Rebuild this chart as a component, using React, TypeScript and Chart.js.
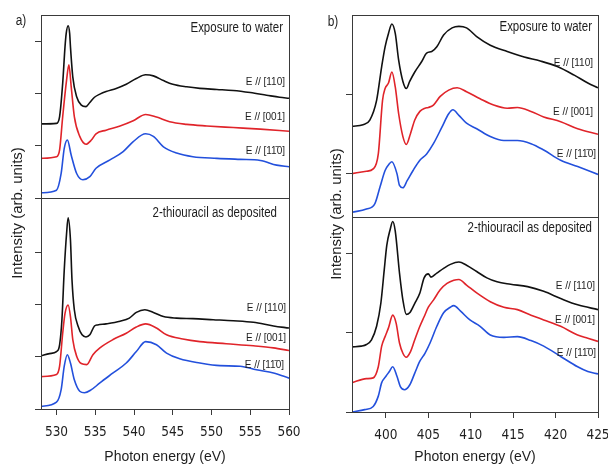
import React, { useEffect, useRef } from "react";
import { Chart, registerables } from "chart.js";

Chart.register(...registerables);

type Pt = [number, number];

// ---------- axes ----------
const aXTicks = [530, 535, 540, 545, 550, 555, 560];
const bXTicks = [400, 405, 410, 415, 420, 425];
const aTopYTicks = [0, 1, 2, 3];
const aBotYTicks = [0, 1, 2, 3];
const bTopYTicks = [0, 1];
const bBotYTicks = [0, 1, 2];

// ---------- texts ----------
const label110 = "E // [110]";
const label001 = "E // [001]";
const label1m10 = "E // [11\u03040]";
const xTitle = "Photon energy (eV)";
const yTitle = "Intensity (arb. units)";
const condWater = "Exposure to water";
const condDep = "2-thiouracil as deposited";

// ---------- panel a (O K-edge), exposure to water ----------
const aWater110: Pt[] = [[528.0,1.42],[530.0,1.43],[530.4,1.56],[530.8,2.20],[531.1,2.90],[531.25,3.15],[531.5,3.30],[531.7,3.15],[531.8,2.90],[532.1,2.32],[532.6,1.94],[533.2,1.78],[533.8,1.75],[534.3,1.83],[534.9,1.93],[535.6,1.99],[536.4,2.04],[537.7,2.10],[539.0,2.18],[540.3,2.29],[541.5,2.36],[542.5,2.34],[543.8,2.25],[545.0,2.18],[546.8,2.13],[548.5,2.10],[550.7,2.08],[552.8,2.06],[555.0,2.02],[557.1,1.97],[558.8,1.93],[560.0,1.91]];
const aWater001: Pt[] = [[528.0,0.76],[530.0,0.79],[530.4,0.92],[530.8,1.56],[531.3,2.26],[531.6,2.55],[531.9,2.13],[532.3,1.56],[533.0,1.18],[533.8,1.03],[534.5,1.11],[535.1,1.23],[536.4,1.30],[538.2,1.38],[539.9,1.48],[541.5,1.60],[542.9,1.55],[544.6,1.46],[546.8,1.41],[549.4,1.38],[552.8,1.35],[556.3,1.32],[560.0,1.28]];
const aWater1m10: Pt[] = [[528.0,0.10],[530.0,0.15],[530.6,0.47],[531.0,0.95],[531.4,1.11],[531.9,0.82],[532.6,0.47],[533.4,0.35],[534.3,0.41],[535.1,0.57],[536.9,0.73],[538.6,0.89],[539.9,1.08],[541.5,1.23],[542.5,1.18],[543.8,0.98],[545.5,0.86],[547.6,0.79],[550.7,0.76],[553.7,0.74],[556.3,0.72],[558.4,0.63],[560.0,0.60]];

// ---------- panel a, as deposited ----------
const aDep110: Pt[] = [[528.0,1.02],[529.1,1.06],[530.0,1.10],[530.4,1.23],[530.7,1.71],[531.0,2.66],[531.3,3.36],[531.5,3.66],[531.8,3.24],[532.0,2.47],[532.3,1.90],[532.8,1.58],[533.3,1.42],[533.8,1.38],[534.3,1.42],[534.9,1.59],[535.3,1.61],[536.4,1.63],[538.2,1.68],[539.4,1.74],[540.3,1.85],[541.4,1.90],[542.5,1.85],[543.8,1.77],[545.5,1.74],[547.6,1.73],[550.2,1.71],[552.8,1.69],[555.4,1.66],[558.0,1.59],[560.0,1.55]];
const aDep001: Pt[] = [[528.0,0.62],[530.0,0.66],[530.4,0.82],[530.8,1.45],[531.1,1.83],[531.5,1.99],[531.8,1.77],[532.1,1.33],[532.6,1.01],[533.2,0.87],[533.9,0.85],[534.7,1.04],[535.6,1.17],[537.3,1.33],[539.0,1.45],[540.3,1.57],[541.5,1.63],[542.9,1.55],[544.2,1.42],[546.3,1.34],[548.5,1.29],[551.9,1.25],[555.4,1.21],[558.0,1.17],[560.0,1.12]];
const aDep1m10: Pt[] = [[528.0,0.05],[530.0,0.13],[530.6,0.37],[531.0,0.82],[531.4,1.04],[531.8,0.88],[532.3,0.56],[533.0,0.34],[533.6,0.31],[534.5,0.37],[535.6,0.50],[537.3,0.69],[539.0,0.88],[540.3,1.10],[541.5,1.29],[542.9,1.23],[544.2,1.07],[545.9,0.96],[548.5,0.88],[551.1,0.83],[553.7,0.82],[555.8,0.75],[558.0,0.69],[560.0,0.59]];

// ---------- panel b (N K-edge), exposure to water ----------
const bWater110: Pt[] = [[396.0,0.60],[397.3,0.62],[398.1,0.68],[398.9,0.93],[399.5,1.36],[399.9,1.61],[400.3,1.78],[400.7,1.90],[401.1,1.78],[401.5,1.44],[402.0,1.17],[402.4,1.08],[402.8,1.17],[403.4,1.29],[404.2,1.42],[404.8,1.53],[405.4,1.55],[406.0,1.61],[406.8,1.76],[407.8,1.85],[408.6,1.87],[409.5,1.85],[410.7,1.74],[412.3,1.63],[414.3,1.55],[416.3,1.48],[418.2,1.43],[420.2,1.36],[422.2,1.25],[423.8,1.15],[425.0,1.09]];
const bWater001: Pt[] = [[396.0,0.00],[397.7,0.03],[398.5,0.06],[399.1,0.25],[399.6,0.93],[399.9,1.08],[400.3,1.15],[400.7,1.29],[401.1,1.10],[401.5,0.76],[402.0,0.47],[402.4,0.37],[402.9,0.51],[403.4,0.68],[404.0,0.79],[404.6,0.83],[405.0,0.84],[405.6,0.87],[406.4,0.98],[407.4,1.06],[408.4,1.09],[409.5,1.04],[411.1,0.95],[412.7,0.87],[414.3,0.83],[415.5,0.84],[417.1,0.79],[418.6,0.72],[420.6,0.66],[422.6,0.57],[425.0,0.50]];
const bWater1m10: Pt[] = [[396.0,-0.49],[397.7,-0.45],[398.7,-0.38],[399.3,-0.17],[399.9,0.04],[400.3,0.11],[400.7,0.15],[401.3,0.00],[401.6,-0.15],[402.0,-0.18],[402.5,-0.09],[403.2,0.04],[404.0,0.17],[404.8,0.25],[405.6,0.38],[406.6,0.59],[407.4,0.76],[407.9,0.81],[408.6,0.74],[409.5,0.64],[410.7,0.57],[412.3,0.47],[413.9,0.42],[415.5,0.42],[417.1,0.38],[418.6,0.30],[420.6,0.17],[422.6,0.09],[425.0,-0.01]];

// ---------- panel b, as deposited ----------
const bDep110: Pt[] = [[396.0,0.82],[397.1,0.83],[397.7,0.85],[398.3,0.91],[398.9,1.08],[399.4,1.37],[399.8,1.79],[400.1,2.10],[400.5,2.30],[400.8,2.40],[401.1,2.28],[401.6,1.75],[402.0,1.41],[402.4,1.23],[402.8,1.25],[403.4,1.37],[404.0,1.50],[404.5,1.69],[405.0,1.74],[405.3,1.70],[406.0,1.75],[406.8,1.81],[407.6,1.86],[408.6,1.89],[409.5,1.85],[410.7,1.77],[411.9,1.69],[413.1,1.64],[414.7,1.61],[416.7,1.58],[418.6,1.52],[420.6,1.43],[422.6,1.35],[425.0,1.29]];
const bDep001: Pt[] = [[396.0,0.37],[397.7,0.42],[398.5,0.43],[399.1,0.57],[399.5,0.83],[399.9,0.95],[400.3,1.06],[400.8,1.22],[401.2,1.12],[401.6,0.87],[402.0,0.74],[402.4,0.69],[402.9,0.76],[403.4,0.91],[404.0,1.08],[404.5,1.20],[405.0,1.32],[405.6,1.41],[406.4,1.54],[407.2,1.62],[408.0,1.66],[408.6,1.67],[409.5,1.60],[410.7,1.50],[412.3,1.39],[413.9,1.32],[415.5,1.29],[417.1,1.22],[418.6,1.16],[420.6,1.08],[422.6,0.97],[423.8,0.93],[425.0,0.89]];
const bDep1m10: Pt[] = [[396.0,0.00],[397.5,0.03],[398.5,0.07],[399.1,0.20],[399.5,0.37],[400.0,0.45],[400.4,0.51],[400.8,0.57],[401.3,0.45],[401.7,0.32],[402.2,0.28],[402.8,0.34],[403.4,0.49],[404.0,0.64],[404.6,0.74],[405.2,0.87],[406.0,1.08],[406.8,1.25],[407.6,1.32],[408.0,1.34],[408.8,1.27],[409.9,1.16],[411.1,1.08],[412.3,0.97],[413.9,0.94],[415.5,0.95],[417.1,0.90],[418.6,0.83],[420.6,0.70],[422.6,0.57],[423.8,0.51],[425.0,0.48]];

// ---------- styles ----------
const BLACK = "#111111";
const RED = "#e0242a";
const BLUE = "#2350dc";
const INK = "#1e1e1e";
const AXIS = "#3a3a3a";
const SANS = "'Liberation Sans', Arial, Helvetica, sans-serif";
const NARROW = "'Liberation Sans Narrow', 'Arial Narrow', 'DejaVu Sans Condensed', 'Liberation Sans', Arial, sans-serif";

interface TextSpec { text: string; x: number; y: number; align: CanvasTextAlign; font: string; sx?: number; rot?: number; }
interface SubSpec {
  box: { left: number; top: number; width: number; height: number };
  padding: { left: number; right: number; top: number; bottom: number };
  yWidth: number;
  xRange: [number, number];
  xTicks: number[] | null;
  xHeight: number;
  yRange: [number, number];
  yTicks: number[];
  series: { data: Pt[]; color: string }[];
  texts: TextSpec[];
}

const condFont = `14px ${SANS}`;
const labFont = `10px ${SANS}`;
const yTitleFont = `15px ${SANS}`;

const annotPlugin = {
  id: "annot",
  afterDraw(chart: any, _args: any, opts: any) {
    const ctx: CanvasRenderingContext2D = chart.ctx;
    const a = chart.chartArea;
    ctx.save();
    ctx.strokeStyle = AXIS;
    ctx.lineWidth = 1;
    ctx.strokeRect(Math.round(a.left) + 0.5, Math.round(a.top) + 0.5, Math.round(a.right - a.left), Math.round(a.bottom - a.top));
    for (const t of opts.texts as TextSpec[]) {
      ctx.save();
      ctx.translate(t.x - opts.ox, t.y - opts.oy);
      if (t.rot) ctx.rotate(t.rot);
      ctx.scale(t.sx ?? 1, 1);
      ctx.font = t.font;
      ctx.fillStyle = INK;
      ctx.textAlign = t.align;
      ctx.textBaseline = "middle";
      ctx.fillText(t.text, 0, 0);
      ctx.restore();
    }
    ctx.restore();
  },
};

function makeLabels(rx: number[], ys: number[]): TextSpec[] {
  const names = [label110, label001, label1m10];
  return names.map((n, i) => ({ text: n, x: rx[i], y: ys[i], align: "right" as CanvasTextAlign, font: labFont }));
}

const subs: SubSpec[] = [
  {
    box: { left: 0, top: 0, width: 300, height: 205 },
    padding: { left: 0, right: 11, top: 15, bottom: 7 },
    yWidth: 41, xRange: [528, 560], xTicks: null, xHeight: 0,
    yRange: [0, 3.506], yTicks: aTopYTicks,
    series: [{ data: aWater110, color: BLACK }, { data: aWater001, color: RED }, { data: aWater1m10, color: BLUE }],
    texts: [
      { text: "a)", x: 21, y: 21, align: "center", font: condFont, sx: 0.85 },
      { text: condWater, x: 283, y: 28, align: "right", font: condFont, sx: 0.82 },
      ...makeLabels([285, 285, 285], [82.7, 117, 151.7]),
    ],
  },
  {
    box: { left: 0, top: 0, width: 300, height: 466 },
    padding: { left: 0, right: 11, top: 198, bottom: 0 },
    yWidth: 41, xRange: [528, 560], xTicks: aXTicks, xHeight: 57,
    yRange: [0, 4.04], yTicks: aBotYTicks,
    series: [{ data: aDep110, color: BLACK }, { data: aDep001, color: RED }, { data: aDep1m10, color: BLUE }],
    texts: [
      { text: yTitle, x: 18, y: 213, align: "center", font: yTitleFont, rot: -Math.PI / 2 },
      { text: condDep, x: 277, y: 213, align: "right", font: condFont, sx: 0.82 },
      ...makeLabels([286, 286, 284], [308.3, 338.7, 365]),
    ],
  },
  {
    box: { left: 300, top: 0, width: 308, height: 224 },
    padding: { left: 0, right: 10, top: 15, bottom: 7 },
    yWidth: 52, xRange: [396, 425], xTicks: null, xHeight: 0,
    yRange: [-0.551, 2.014], yTicks: bTopYTicks,
    series: [{ data: bWater110, color: BLACK }, { data: bWater001, color: RED }, { data: bWater1m10, color: BLUE }],
    texts: [
      { text: "b)", x: 333, y: 22, align: "center", font: condFont, sx: 0.85 },
      { text: condWater, x: 592, y: 27, align: "right", font: condFont, sx: 0.82 },
      ...makeLabels([593, 593, 596], [63.3, 112.3, 154]),
    ],
  },
  {
    box: { left: 300, top: 0, width: 308, height: 466 },
    padding: { left: 0, right: 10, top: 217, bottom: 0 },
    yWidth: 52, xRange: [396, 425], xTicks: bXTicks, xHeight: 54,
    yRange: [0, 2.457], yTicks: bBotYTicks,
    series: [{ data: bDep110, color: BLACK }, { data: bDep001, color: RED }, { data: bDep1m10, color: BLUE }],
    texts: [
      { text: yTitle, x: 337, y: 214, align: "center", font: yTitleFont, rot: -Math.PI / 2 },
      { text: condDep, x: 592, y: 228, align: "right", font: condFont, sx: 0.82 },
      ...makeLabels([595, 595, 596], [286.7, 320, 353.3]),
    ],
  },
];

function SubChart({ spec }: { spec: SubSpec }) {
  const ref = useRef<HTMLCanvasElement | null>(null);
  useEffect(() => {
    const canvas = ref.current;
    if (!canvas) return;
    const xTicks = spec.xTicks;
    const chart = new Chart(canvas, {
      type: "line",
      data: {
        datasets: spec.series.map((s) => ({
          data: s.data.map(([x, y]) => ({ x, y })),
          borderColor: s.color,
          backgroundColor: s.color,
          borderWidth: 1.6,
          pointRadius: 0,
          fill: false,
          cubicInterpolationMode: "monotone" as const,
        })),
      },
      options: {
        animation: false,
        responsive: false,
        devicePixelRatio: 1,
        events: [],
        layout: { padding: spec.padding },
        plugins: {
          legend: { display: false },
          tooltip: { enabled: false },
          annot: { texts: spec.texts, ox: spec.box.left, oy: spec.box.top },
        } as any,
        scales: {
          x: xTicks
            ? {
                type: "linear",
                position: "bottom",
                min: spec.xRange[0],
                max: spec.xRange[1],
                afterBuildTicks: (s: any) => { s.ticks = xTicks.map((v) => ({ value: v })); },
                afterFit: (s: any) => {
                  s.height = spec.xHeight;
                  s.paddingLeft = 0;
                  s.paddingRight = 0;
                },
                grid: { drawOnChartArea: false, drawTicks: true, tickLength: 6, color: AXIS, lineWidth: 1 },
                border: { display: false },
                ticks: { autoSkip: false, maxRotation: 0, padding: 9, color: INK, font: { family: NARROW, size: 13.5 } },
                title: { display: true, text: xTitle, color: INK, font: { family: SANS, size: 14 }, padding: { top: 0, bottom: 0 } },
              }
            : { type: "linear", min: spec.xRange[0], max: spec.xRange[1], display: false },
          y: {
            type: "linear",
            position: "left",
            min: spec.yRange[0],
            max: spec.yRange[1],
            afterBuildTicks: (s: any) => { s.ticks = spec.yTicks.map((v) => ({ value: v })); },
            afterFit: (s: any) => { s.width = spec.yWidth; },
            grid: { drawOnChartArea: false, drawTicks: true, tickLength: 6, color: AXIS, lineWidth: 1 },
            border: { display: false },
            ticks: { display: false },
          },
        } as any,
      },
      plugins: [annotPlugin as any],
    });
    return () => chart.destroy();
  }, [spec]);
  const b = spec.box;
  return (
    <canvas
      ref={ref}
      width={b.width}
      height={b.height}
      style={{ position: "absolute", left: b.left, top: b.top, width: b.width, height: b.height }}
    />
  );
}

export default function App() {
  return (
    <div style={{ position: "absolute", left: 0, top: 0, width: 608, height: 466, background: "#ffffff", overflow: "hidden" }}>
      {subs.map((s, i) => (
        <SubChart key={i} spec={s} />
      ))}
    </div>
  );
}
